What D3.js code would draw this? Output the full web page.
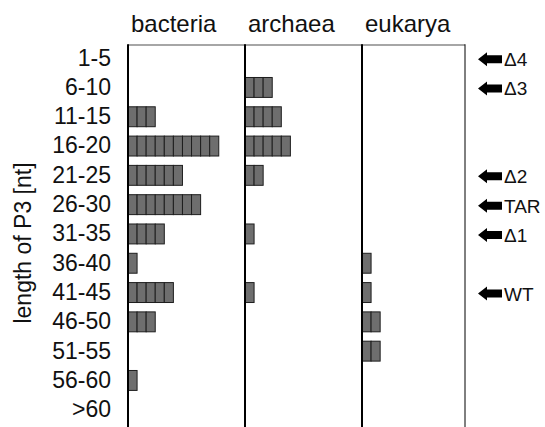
<!DOCTYPE html>
<html>
<head>
<meta charset="utf-8">
<script src="https://cdn.jsdelivr.net/npm/d3@7"></script>
<style>
  body { margin: 0; background: #fff; }
  text { font-family: "Liberation Sans", Arial, Helvetica, sans-serif; fill: #111; }
</style>
</head>
<body>
<div id="chart"></div>
<script>
// P3 length distribution per domain, one square per sequence

const rows = ["1-5", "6-10", "11-15", "16-20", "21-25", "26-30", "31-35",
              "36-40", "41-45", "46-50", "51-55", "56-60", ">60"];
const domains = ["bacteria", "archaea", "eukarya"];
const bacteria = [0, 0, 3, 10, 6, 8, 4, 1, 5, 3, 0, 1, 0];
const archaea  = [0, 3, 4, 5, 2, 0, 1, 0, 1, 0, 0, 0, 0];
const eukarya  = [0, 0, 0, 0, 0, 0, 0, 1, 1, 2, 2, 0, 0];
const markerLabels = ["Δ4", "Δ3", "Δ2", "TAR", "Δ1", "WT"];
const markerRows   = ["1-5", "6-10", "21-25", "26-30", "31-35", "41-45"];

const counts = {bacteria: bacteria, archaea: archaea, eukarya: eukarya};

const width = 545,
    height = 427,
    frameTop = 45,
    frameRight = 465;

let svg = d3.select("#chart")
    .append("svg")
    .attr("width", width)
    .attr("height", height);

// panel left edges
let x = d3.scaleBand()
    .domain(domains)
    .range([128, 479]);

// width of n squares
let unit = d3.scaleLinear()
    .domain([0, 13])
    .range([0, 118]);

let y = d3.scaleBand()
    .domain(rows)
    .range([43.5, 424.4])
    .paddingInner(0.32)
    .paddingOuter(0.16);

// squares, one per count
let cells = [];
domains.forEach(dm => {
    rows.forEach((r, i) => {
        for (let k = 0; k < counts[dm][i]; k++) cells.push({domain: dm, row: r, k: k});
    });
});

svg.append("g")
    .selectAll("rect")
    .data(cells)
    .join("rect")
    .attr("x", d => x(d.domain) + unit(d.k))
    .attr("y", d => y(d.row))
    .attr("width", unit(1))
    .attr("height", y.bandwidth())
    .attr("fill", "#6e6e6e")
    .attr("stroke", "#1e1e1e")
    .attr("stroke-width", 1);

// frame
svg.append("line")
    .attr("x1", x("bacteria")).attr("x2", frameRight)
    .attr("y1", frameTop).attr("y2", frameTop)
    .attr("stroke", "#888").attr("stroke-width", 1.5);

svg.selectAll(".divider")
    .data(domains)
    .join("line")
    .attr("class", "divider")
    .attr("x1", d => x(d)).attr("x2", d => x(d))
    .attr("y1", frameTop - 0.75).attr("y2", height)
    .attr("stroke", "#000").attr("stroke-width", 2);

svg.append("line")
    .attr("x1", frameRight).attr("x2", frameRight)
    .attr("y1", frameTop - 0.75).attr("y2", height)
    .attr("stroke", "#000").attr("stroke-width", 1);

// domain headers
svg.selectAll(".header")
    .data(domains)
    .join("text")
    .attr("class", "header")
    .attr("x", d => x(d) + 3)
    .attr("y", 32)
    .style("font-size", "24px")
    .text(d => d);

// row labels
let yAxis = svg.append("g")
    .attr("transform", `translate(${x("bacteria")},0)`)
    .call(d3.axisLeft(y).tickSize(0).tickPadding(17));
yAxis.select(".domain").remove();
yAxis.selectAll("text")
    .style("font-size", "23px")
    .style("font-family", "'Liberation Sans', Arial, sans-serif")
    .attr("fill", "#111");

svg.append("text")
    .attr("transform", "translate(31,243) rotate(-90)")
    .attr("text-anchor", "middle")
    .style("font-size", "23px")
    .text("length of P3 [nt]");

// construct markers
let markers = svg.selectAll(".marker")
    .data(markerLabels.map((l, i) => ({label: l, row: markerRows[i]})))
    .join("g")
    .attr("class", "marker")
    .attr("transform", d => `translate(478,${y(d.row) + y.bandwidth() / 2 + 1})`);

markers.append("path")
    .attr("d", "M0,0 L9,-7 L9,-4 L24,-4 L24,4 L9,4 L9,7 Z")
    .attr("fill", "#000");

markers.append("text")
    .attr("x", 26)
    .attr("y", 7)
    .style("font-size", "19px")
    .text(d => d.label);
</script>
</body>
</html>
